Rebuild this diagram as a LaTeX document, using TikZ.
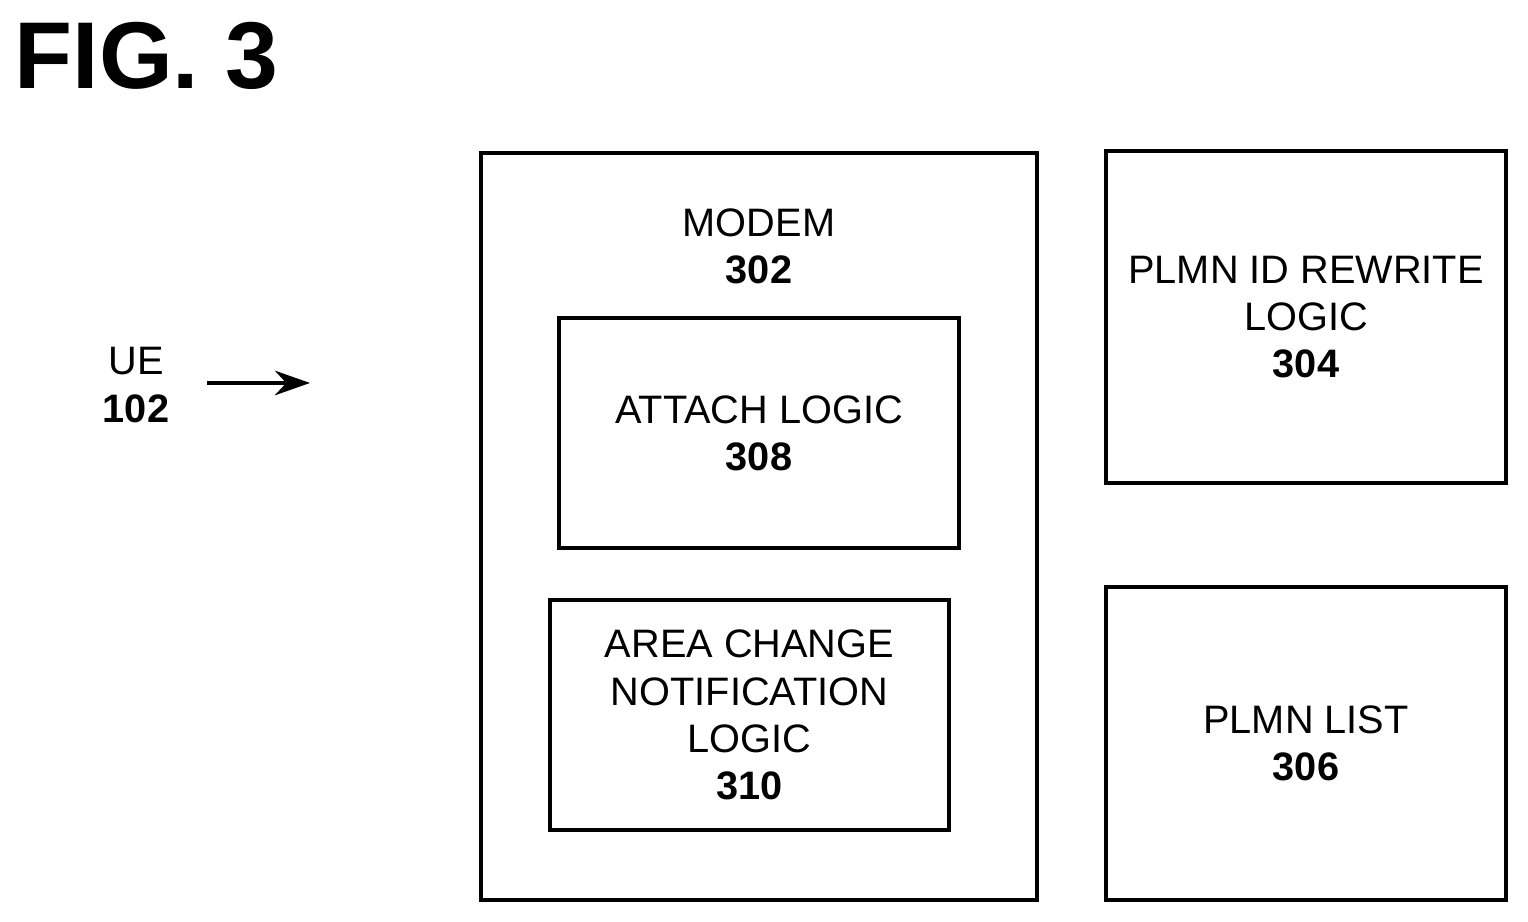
\documentclass[tikz,border=0pt]{standalone}
\usepackage{fontspec}
\setmainfont{Liberation Sans}
\usetikzlibrary{arrows.meta,positioning}

\tikzset{
    blk/.style={draw, line width=1pt, align=center, inner sep=0pt,
        font=\fontsize{11.3}{13.4}\selectfont},
    lbl/.style={align=center, font=\fontsize{11.3}{13.4}\selectfont}
}

\begin{document}
\begin{tikzpicture}
    \useasboundingbox (0,0) rectangle (15.28,9.22);
    % Title
    \node[anchor=north west, inner sep=0pt, font=\fontsize{27}{30}\selectfont\bfseries] (fig) at (0.14,9.0) {FIG. 3};
    % UE with arrow
    \node[lbl] (ue) at (1.36,5.37) {UE\\\textbf{102}};
    \coordinate (ueA) at (2.07,5.39);
    \coordinate (ueB) at (3.10,5.39);
    \draw[line width=1pt, -{Stealth[length=10pt,width=7pt]}] (ueA) -- (ueB);
    % Modem and its logic blocks
    \draw[line width=1pt] (4.81,0.22) rectangle (10.37,7.69);
    \node[lbl] (modem) at (7.59,6.76) {MODEM\\\textbf{302}};
    \node[blk, minimum width=4.0cm, minimum height=2.3cm] (attach) at (7.59,4.89) {ATTACH LOGIC\\\textbf{308}};
    \node[blk, minimum width=3.99cm, minimum height=2.3cm] (area) at (7.495,2.07) {AREA CHANGE\\NOTIFICATION\\LOGIC\\\textbf{310}};
    % Side blocks
    \node[blk, minimum width=4.0cm, minimum height=3.32cm] (rewrite) at (13.06,6.05) {PLMN ID REWRITE\\LOGIC\\\textbf{304}};
    \node[blk, minimum width=4.0cm, minimum height=3.13cm] (plmn) at (13.06,1.785) {PLMN LIST\\\textbf{306}};
\end{tikzpicture}
\end{document}
